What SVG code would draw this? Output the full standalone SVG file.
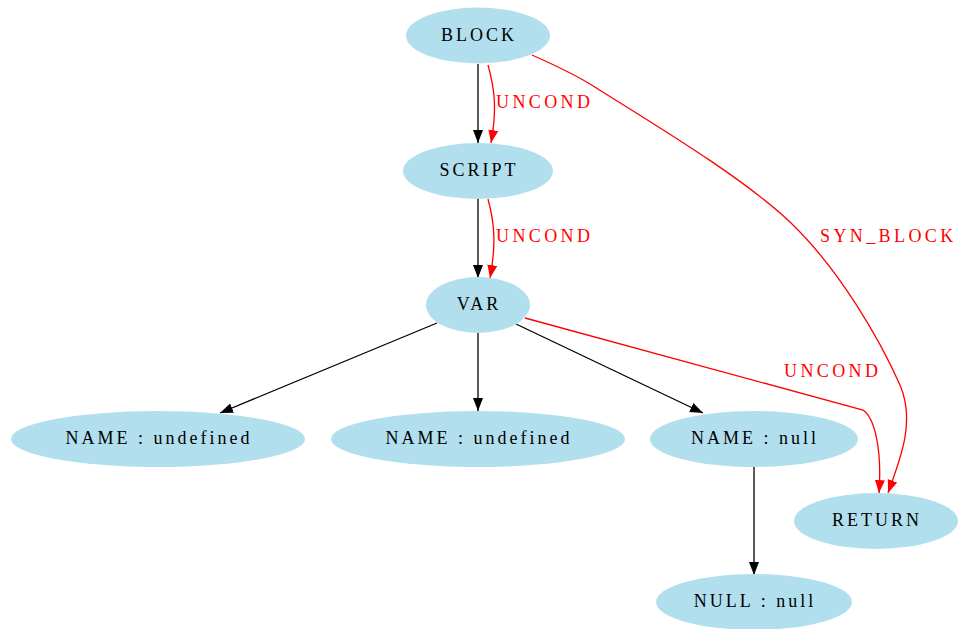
<svg xmlns="http://www.w3.org/2000/svg" width="963" height="629" viewBox="0 0 963 629">
<style>
.n ellipse{fill:#b2dfee;stroke:none}
.n text{font-family:"Liberation Serif","Times New Roman",serif;font-size:18px;fill:#000;text-anchor:middle;letter-spacing:3px}
.e{fill:none;stroke:#000;stroke-width:1.3}
.r{fill:none;stroke:#ff0000;stroke-width:1.3}
.lbl{font-family:"Liberation Serif","Times New Roman",serif;font-size:18px;fill:#ff0000;letter-spacing:3.4px}
</style>
<defs>
<marker id="ab" markerUnits="userSpaceOnUse" markerWidth="14" markerHeight="12" refX="13" refY="5" orient="auto"><path d="M0,0 L13,5 L0,10 Z" fill="#000"/></marker>
<marker id="ar" markerUnits="userSpaceOnUse" markerWidth="14" markerHeight="12" refX="13" refY="5" orient="auto"><path d="M0,0 L13,5 L0,10 Z" fill="#ff0000"/></marker>
</defs>
<rect width="963" height="629" fill="#fff"/>
<g id="edges">
<path class="e" d="M478,64 L478,143" marker-end="url(#ab)"/>
<path class="r" d="M488,65 C495,90 497,110 491,143" marker-end="url(#ar)"/>
<text class="lbl" x="496" y="108">UNCOND</text>
<path class="e" d="M478,199 L478,278" marker-end="url(#ab)"/>
<path class="r" d="M488,199 C495,225 496,245 490,278" marker-end="url(#ar)"/>
<text class="lbl" x="496" y="242">UNCOND</text>
<path class="r" d="M532,55 C550,63 570,72 590,84 C650,122 740,175 790,222 C840,270 880,340 900,385 C915,420 902,455 888,493" marker-end="url(#ar)"/>
<text class="lbl" x="820" y="242">SYN_BLOCK</text>
<path class="r" d="M525,318 L863,410 C875,418 882,450 879,493" marker-end="url(#ar)"/>
<text class="lbl" x="784" y="377">UNCOND</text>
<path class="e" d="M437,323 L220,413" marker-end="url(#ab)"/>
<path class="e" d="M478,333 L478,411" marker-end="url(#ab)"/>
<path class="e" d="M516,324 L703,413" marker-end="url(#ab)"/>
<path class="e" d="M754,467 L754,575" marker-end="url(#ab)"/>
</g>
<g id="BLOCK" class="n"><ellipse cx="478" cy="35.5" rx="72" ry="28"/><text x="479" y="41">BLOCK</text></g>
<g id="SCRIPT" class="n"><ellipse cx="478" cy="171" rx="75" ry="28"/><text x="479" y="176">SCRIPT</text></g>
<g id="VAR" class="n"><ellipse cx="478" cy="305" rx="52" ry="28"/><text x="479" y="310">VAR</text></g>
<g id="NAME1" class="n"><ellipse cx="158" cy="439" rx="147" ry="28"/><text x="159" y="444">NAME : undefined</text></g>
<g id="NAME2" class="n"><ellipse cx="478" cy="439" rx="147" ry="28"/><text x="479" y="444">NAME : undefined</text></g>
<g id="NAME3" class="n"><ellipse cx="754" cy="439" rx="104" ry="28"/><text x="755" y="444">NAME : null</text></g>
<g id="RETURN" class="n"><ellipse cx="876" cy="521" rx="82" ry="28"/><text x="877" y="526">RETURN</text></g>
<g id="NULL" class="n"><ellipse cx="754" cy="602" rx="98" ry="28"/><text x="755" y="607">NULL : null</text></g>
</svg>
